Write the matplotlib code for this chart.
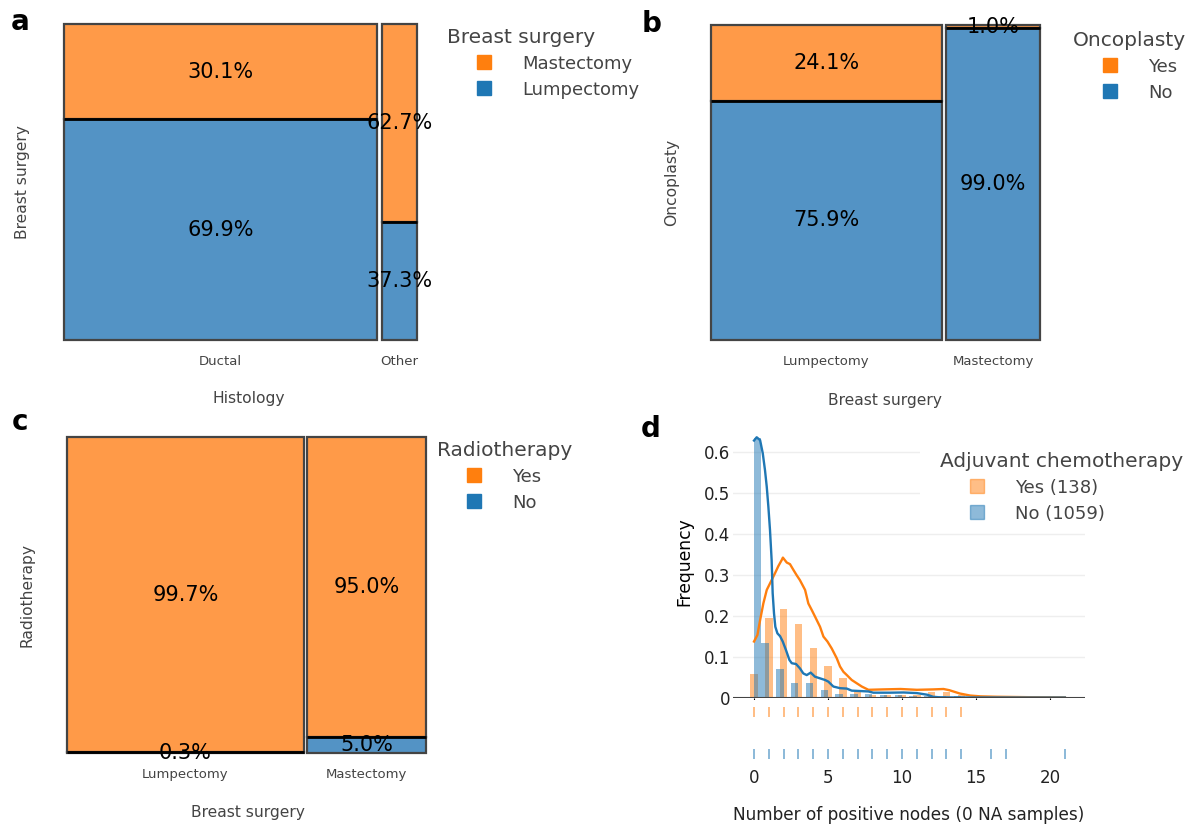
import matplotlib
matplotlib.use('Agg')
import matplotlib.pyplot as plt
from matplotlib.patches import Rectangle
from matplotlib.lines import Line2D

plt.rcParams['font.family'] = ['DejaVu Sans']

# ---------------- data ----------------
a_categories = ['Ductal', 'Other']
a_col_share = [0.899, 0.101]
a_top_pct = [30.1, 62.7]       # Mastectomy
a_bottom_pct = [69.9, 37.3]    # Lumpectomy
a_legend = ['Mastectomy', 'Lumpectomy']

b_categories = ['Lumpectomy', 'Mastectomy']
b_col_share = [0.711, 0.289]
b_top_pct = [24.1, 1.0]        # Yes
b_bottom_pct = [75.9, 99.0]    # No
b_legend = ['Yes', 'No']

c_categories = ['Lumpectomy', 'Mastectomy']
c_col_share = [0.666, 0.334]
c_top_pct = [99.7, 95.0]       # Yes
c_bottom_pct = [0.3, 5.0]      # No
c_legend = ['Yes', 'No']

# panel d: histogram (probability) of positive nodes
yes_x = [0, 1, 2, 3, 4, 5, 6, 7, 8, 9, 10, 11, 12, 13, 14]
yes_freq = [0.058, 0.195, 0.217, 0.181, 0.122, 0.077, 0.050, 0.014,
            0.007, 0.007, 0.007, 0.007, 0.014, 0.014, 0.007]
no_bin_left = [0.0, 0.5, 1.5, 2.5, 3.5, 4.5, 5.5, 6.5, 7.5, 8.5, 9.5,
               10.5, 11.5, 12.5, 13.5, 15.5, 16.5, 20.5]
no_freq = [0.635, 0.134, 0.070, 0.037, 0.037, 0.020, 0.010, 0.010,
           0.009, 0.008, 0.007, 0.006, 0.005, 0.004, 0.004, 0.001, 0.001, 0.001]

yes_kde_x = [0, 0.23, 0.41, 0.63, 0.86, 1.19, 1.42, 1.64, 1.87, 1.95, 2.21, 2.43,
             2.66, 2.88, 3.1, 3.45, 3.67, 3.9, 4.12, 4.46, 4.69, 4.96, 5.25,
             5.59, 5.81, 6.04, 6.27, 6.6, 6.94, 7.28, 7.73, 8.7, 9.9, 11.0,
             12.1, 12.8, 13.2, 13.9, 14.6, 15.3, 16.4, 18.5, 21.0]
yes_kde_y = [0.138, 0.154, 0.19, 0.231, 0.264, 0.288, 0.305, 0.322, 0.337, 0.343,
             0.331, 0.327, 0.313, 0.300, 0.288, 0.264, 0.231, 0.215, 0.199, 0.174,
             0.150, 0.138, 0.121, 0.097, 0.077, 0.064, 0.056, 0.044, 0.036,
             0.028, 0.020, 0.021, 0.022, 0.020, 0.021, 0.022, 0.019, 0.011,
             0.006, 0.004, 0.003, 0.002, 0.0015]
no_kde_x = [0, 0.18, 0.41, 0.59, 0.74, 0.86, 0.97, 1.08, 1.19, 1.26, 1.35, 1.44,
            1.58, 1.76, 1.94, 2.16, 2.39, 2.55, 2.84, 3.1, 3.33, 3.56, 3.83,
            4.12, 4.46, 4.8, 5.02, 5.36, 5.81, 6.27, 6.6, 7.16, 7.73, 8.06,
            9.19, 10.1, 11.0, 11.7, 12.1, 12.6, 15.0, 18.0, 21.0]
no_kde_y = [0.629, 0.637, 0.630, 0.598, 0.557, 0.516, 0.467, 0.41, 0.337, 0.256,
            0.207, 0.174, 0.158, 0.151, 0.138, 0.117, 0.093, 0.085, 0.083, 0.0725,
            0.060, 0.056, 0.062, 0.052, 0.048, 0.044, 0.040, 0.028, 0.024,
            0.023, 0.018, 0.017, 0.016, 0.013, 0.013, 0.0135, 0.012, 0.008,
            0.003, 0.0015, 0.0012, 0.001, 0.001]
yes_rug = [0, 1, 2, 3, 4, 5, 6, 7, 8, 9, 10, 11, 12, 13, 14]
no_rug = [0, 1, 2, 3, 4, 5, 6, 7, 8, 9, 10, 11, 12, 13, 14, 16, 17, 21]
d_legend = ['Yes (138)', 'No (1059)']
d_ticks = [0, 5, 10, 15, 20]
d_yticks = [0, 0.1, 0.2, 0.3, 0.4, 0.5, 0.6]
d_yticklabels = ['0', '0.1', '0.2', '0.3', '0.4', '0.5', '0.6']

# ---------------- style ----------------
W, H = 1192, 827
ORANGE_FILL = '#FF9A48'
BLUE_FILL = '#5393C5'
ORANGE = '#ff7f0e'
BLUE = '#1f77b4'
GREY = '#444444'

fig = plt.figure(figsize=(W / 100, H / 100), dpi=100)


def fbox(l, t, r, b):
    return [l / W, 1 - b / H, (r - l) / W, (b - t) / H]


def mosaic(ax, shares, top_pct, bottom_pct, cats, gap):
    left = 0.0
    centers = []
    for share, tp, bp in zip(shares, top_pct, bottom_pct):
        ax.add_patch(Rectangle((left, 0), share, bp, facecolor=BLUE_FILL,
                               edgecolor=GREY, lw=1.6, clip_on=False, zorder=1))
        ax.add_patch(Rectangle((left, bp), share, tp, facecolor=ORANGE_FILL,
                               edgecolor=GREY, lw=1.6, clip_on=False, zorder=1))
        ax.plot([left, left + share], [bp, bp], color='black', lw=2,
                solid_capstyle='butt', clip_on=False, zorder=2)
        cx = left + share / 2
        centers.append(cx)
        ax.text(cx, bp + tp / 2, f'{tp:.1f}%', ha='center', va='center',
                fontsize=15, color='black', zorder=3, clip_on=False)
        ax.text(cx, bp / 2, f'{bp:.1f}%', ha='center', va='center',
                fontsize=15, color='black', zorder=3, clip_on=False)
        left += share + gap
    ax.set_xlim(0, left - gap)
    ax.set_ylim(0, 100)
    for s in ax.spines.values():
        s.set_visible(False)
    ax.set_yticks([])
    ax.set_xticks(centers, cats)
    ax.tick_params(axis='x', length=0, pad=11, labelsize=9.5, labelcolor=GREY)


def legend(ax, title, labels, colors, x_left, y_top, alpha=1.0):
    handles = [Line2D([], [], marker='s', linestyle='none', markersize=9.4,
                      markerfacecolor=c, markeredgecolor=c, alpha=alpha)
               for c in colors]
    leg = ax.legend(handles, labels, title=title, loc='upper left',
                    bbox_to_anchor=(x_left / W, 1 - y_top / H),
                    bbox_transform=fig.transFigure, frameon=False,
                    borderpad=0, borderaxespad=0, fontsize=13,
                    title_fontsize=14.5, handlelength=4.1, handletextpad=0.05,
                    labelspacing=0.43, alignment='left')
    for t in leg.get_texts():
        t.set_color(GREY)
    leg.get_title().set_color(GREY)
    return leg


# ---------------- panel a ----------------
axa = fig.add_axes(fbox(64, 24, 417, 340))
mosaic(axa, a_col_share, a_top_pct, a_bottom_pct, a_categories, 0.0142)
axa.set_xlabel('Histology', fontsize=11.2, color=GREY, va='center')
axa.xaxis.set_label_coords((249 - 64) / 353, -(399 - 340) / 316)
axa.set_ylabel('Breast surgery', fontsize=11.2, color=GREY, va='center')
axa.yaxis.set_label_coords((22 - 64) / 353, 0.5)
legend(axa, 'Breast surgery', a_legend, [ORANGE, BLUE], 447, 28)

# ---------------- panel b ----------------
axb = fig.add_axes(fbox(711, 25, 1040, 340))
mosaic(axb, b_col_share, b_top_pct, b_bottom_pct, b_categories, 0.0122)
axb.set_xlabel('Breast surgery', fontsize=11.2, color=GREY, va='center')
axb.xaxis.set_label_coords((885 - 711) / 329, -(400 - 340) / 315)
axb.set_ylabel('Oncoplasty', fontsize=11.2, color=GREY, va='center')
axb.yaxis.set_label_coords((672 - 711) / 329, 0.5)
legend(axb, 'Oncoplasty', b_legend, [ORANGE, BLUE], 1073, 31)

# ---------------- panel c ----------------
axc = fig.add_axes(fbox(67, 437, 426, 753))
mosaic(axc, c_col_share, c_top_pct, c_bottom_pct, c_categories, 0.0084)
axc.set_xlabel('Breast surgery', fontsize=11.2, color=GREY, va='center')
axc.xaxis.set_label_coords((248 - 67) / 359, -(812 - 753) / 316)
axc.set_ylabel('Radiotherapy', fontsize=11.2, color=GREY, va='center')
axc.yaxis.set_label_coords((27 - 67) / 359, 0.5)
legend(axc, 'Radiotherapy', c_legend, [ORANGE, BLUE], 437, 441)

# ---------------- panel d ----------------
axd = fig.add_axes(fbox(733, 434, 1085, 698))
axd.bar(yes_x, yes_freq, width=0.5, color=ORANGE, alpha=0.5, lw=0, zorder=2)
axd.bar(no_bin_left, no_freq, width=0.5, align='edge', color=BLUE, alpha=0.5,
        lw=0, zorder=2)
axd.plot(yes_kde_x, yes_kde_y, color=ORANGE, lw=1.7, zorder=3)
axd.plot(no_kde_x, no_kde_y, color=BLUE, lw=1.7, zorder=3)
axd.axhline(0, color=GREY, lw=1.5, zorder=4)
axd.set_xlim(-1.42, 22.36)
axd.set_ylim(0, 0.645)
axd.set_yticks(d_yticks, d_yticklabels)
axd.set_xticks([])
axd.yaxis.grid(True, color='#eeeeee', lw=1, zorder=0)
axd.set_axisbelow(True)
for s in axd.spines.values():
    s.set_visible(False)
axd.tick_params(axis='y', length=0, pad=2, labelsize=12, labelcolor='#222222')
axd.set_ylabel('Frequency', fontsize=12.3, color='black', va='center')
axd.yaxis.set_label_coords((684.5 - 733) / 352, (698 - 562) / 264)
# white legend background covering gridlines
axd.add_patch(Rectangle(((920 - 733) / 352, (698 - 528) / 264), (1090 - 920) / 352,
                        (528 - 440) / 264, transform=axd.transAxes,
                        facecolor='white', edgecolor='none', zorder=1, clip_on=False))
legend(axd, 'Adjuvant chemotherapy', d_legend, [ORANGE, BLUE], 940, 452, alpha=0.5)

axr = fig.add_axes(fbox(733, 700, 1085, 766), sharex=axd)
axr.plot(yes_rug, [1] * len(yes_rug), linestyle='none', marker='|', ms=7,
         mew=1.2, color=ORANGE, alpha=0.6)
axr.plot(no_rug, [0] * len(no_rug), linestyle='none', marker='|', ms=7,
         mew=1.2, color=BLUE, alpha=0.6)
axr.set_ylim(-0.286, 1.286)
axr.set_yticks([])
axr.set_xticks(d_ticks)
axr.set_xticklabels([str(t) for t in d_ticks])
for s in axr.spines.values():
    s.set_visible(False)
axr.tick_params(axis='x', length=0, pad=2, labelsize=12, labelcolor='#222222')
axr.set_xlabel('Number of positive nodes (0 NA samples)', fontsize=12.2,
               color='#222222', va='center')
axr.xaxis.set_label_coords(0.5, -(815 - 766) / 66)

# panel letters
for letter, (x, y) in {'a': (20, 30), 'b': (652, 32), 'c': (20, 430),
                       'd': (651, 437)}.items():
    fig.text(x / W, 1 - y / H, letter, fontsize=20, fontweight='bold',
             ha='center', va='baseline')

fig.savefig('out.png', dpi=100)
